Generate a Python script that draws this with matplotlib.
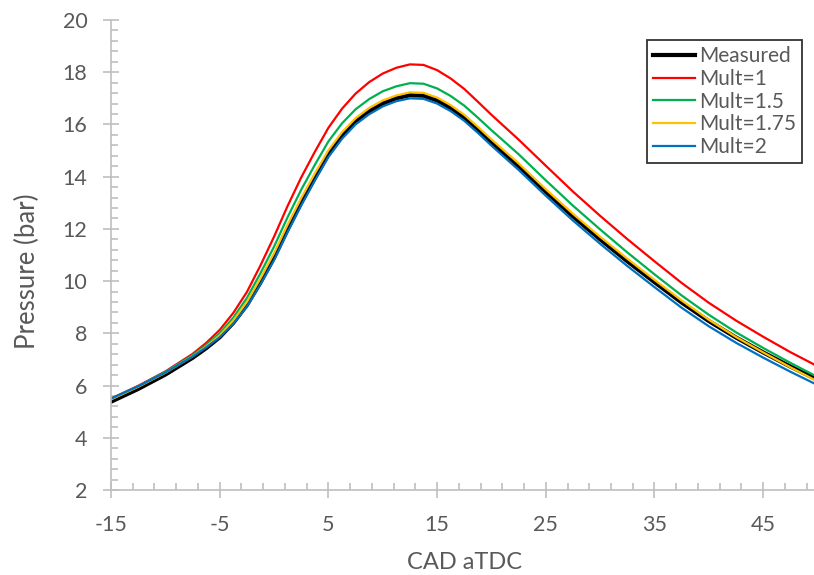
import numpy as np
import matplotlib
matplotlib.use("Agg")
import matplotlib.pyplot as plt
from matplotlib.ticker import FixedLocator

plt.rcParams['font.family'] = ['Lato', 'DejaVu Sans']
plt.rcParams['axes.unicode_minus'] = False

cad = [-15, -12.5, -10, -7.5, -6.25, -5, -3.75, -2.5, -1.25, 0, 1.25, 2.5, 3.75, 5,
       6.25, 7.5, 8.75, 10, 11.25, 12.5, 13.75, 15, 16.25, 17.5, 18.75, 20, 22.5, 25,
       27.5, 30, 32.5, 35, 37.5, 40, 42.5, 45, 47.5, 50]

measured = [5.38, 5.87, 6.42, 7.06, 7.43, 7.85, 8.40, 9.08, 9.95, 10.90, 11.98, 13.00,
            13.95, 14.85, 15.55, 16.10, 16.50, 16.80, 17.00, 17.12, 17.10, 16.92, 16.63,
            16.26, 15.80, 15.32, 14.40, 13.42, 12.48, 11.60, 10.76, 9.96, 9.18, 8.47,
            7.84, 7.27, 6.73, 6.22]
mult_1 = [5.50, 5.99, 6.54, 7.21, 7.63, 8.13, 8.78, 9.58, 10.60, 11.70, 12.88, 13.97,
          14.95, 15.87, 16.60, 17.18, 17.62, 17.95, 18.17, 18.30, 18.28, 18.08, 17.76,
          17.36, 16.87, 16.37, 15.42, 14.42, 13.43, 12.50, 11.61, 10.76, 9.93, 9.17,
          8.49, 7.87, 7.28, 6.74]
mult_15 = [5.48, 5.97, 6.52, 7.16, 7.55, 8.00, 8.60, 9.35, 10.30, 11.32, 12.45, 13.50,
           14.45, 15.35, 16.04, 16.58, 16.97, 17.27, 17.46, 17.58, 17.56, 17.38, 17.09,
           16.72, 16.26, 15.78, 14.86, 13.86, 12.89, 11.98, 11.10, 10.26, 9.45, 8.71,
           8.04, 7.44, 6.87, 6.33]
mult_175 = [5.47, 5.95, 6.49, 7.12, 7.49, 7.92, 8.49, 9.20, 10.10, 11.07, 12.16, 13.18,
            14.12, 15.01, 15.70, 16.24, 16.63, 16.92, 17.11, 17.23, 17.21, 17.03, 16.74,
            16.37, 15.91, 15.43, 14.51, 13.52, 12.58, 11.70, 10.86, 10.05, 9.26, 8.52,
            7.86, 7.27, 6.70, 6.16]
mult_2 = [5.50, 5.97, 6.50, 7.11, 7.46, 7.85, 8.37, 9.02, 9.87, 10.80, 11.88, 12.90,
          13.85, 14.75, 15.45, 16.00, 16.39, 16.69, 16.89, 17.00, 16.98, 16.80, 16.51,
          16.14, 15.68, 15.19, 14.26, 13.27, 12.32, 11.43, 10.58, 9.77, 8.98, 8.27,
          7.64, 7.07, 6.53, 6.02]

labels = ['Measured', 'Mult=1', 'Mult=1.5', 'Mult=1.75', 'Mult=2']
series = [measured, mult_1, mult_15, mult_175, mult_2]
colors = ['#000000', '#FF0000', '#00B050', '#FFC000', '#0070C0']
widths = [3.0, 1.6, 1.6, 1.6, 1.6]

fig = plt.figure(figsize=(8.14, 5.75), dpi=100)
ax = fig.add_axes([111/814, 1 - 490/575, (817.5 - 111)/814, (490 - 20)/575])

for ys, lab, c, w in zip(series, labels, colors, widths):
    ax.plot(cad, ys, color=c, lw=w, label=lab, solid_joinstyle='round')

ax.set_xlim(-15, 50)
ax.set_ylim(2, 20)
ax.xaxis.set_major_locator(FixedLocator(np.arange(-15, 46, 10)))
ax.xaxis.set_minor_locator(FixedLocator(np.arange(-15, 51, 2)))
ax.yaxis.set_major_locator(FixedLocator(np.arange(2, 21, 2)))
ax.yaxis.set_minor_locator(FixedLocator(np.arange(2, 20.01, 0.4)))

spine_c = '#BFBFBF'
for s in ['top', 'right']:
    ax.spines[s].set_visible(False)
for s in ['left', 'bottom']:
    ax.spines[s].set_color(spine_c)
    ax.spines[s].set_linewidth(1.2)

ax.tick_params(which='major', direction='inout', length=12, width=1.2, color=spine_c,
               labelsize=15.5, labelcolor='#595959')
ax.tick_params(axis='y', which='major', pad=11)
ax.tick_params(axis='x', which='major', pad=12)
ax.tick_params(which='minor', direction='in', length=5, width=1.2, color=spine_c)

ax.set_xlabel('CAD aTDC', fontsize=17, color='#595959', labelpad=12)
ax.set_ylabel('Pressure (bar)', fontsize=18.5, color='#595959')
ax.yaxis.set_label_coords(-0.101, 0.465)

leg = ax.legend(loc='upper right', bbox_to_anchor=(802/814, 1 - 40/575),
                bbox_transform=fig.transFigure, fontsize=15, frameon=True,
                fancybox=False, edgecolor='black', handlelength=2.0, handletextpad=0.2,
                labelspacing=0.13, borderpad=0.3, borderaxespad=0)
leg.get_frame().set_linewidth(1.3)
for t in leg.get_texts():
    t.set_color('#595959')

fig.savefig('out.png', dpi=100)
